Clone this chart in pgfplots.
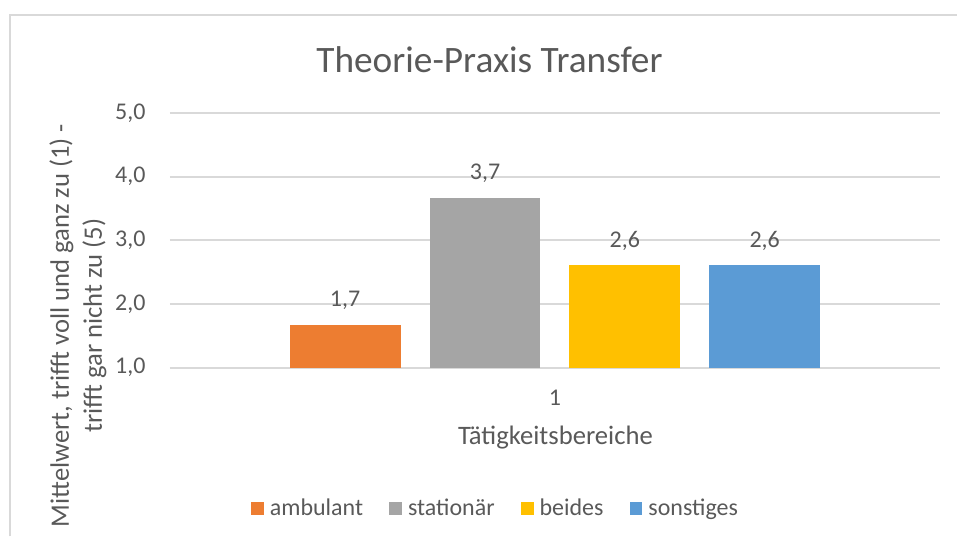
\documentclass[border=0pt]{standalone}
\usepackage{fontspec}
\setmainfont{Carlito}
\usepackage{pgfplots}
\pgfplotsset{compat=1.18}

\definecolor{amb}{HTML}{ED7D31}
\definecolor{sta}{HTML}{A5A5A5}
\definecolor{bei}{HTML}{FFC000}
\definecolor{son}{HTML}{5B9BD5}
\definecolor{txt}{HTML}{595959}
\definecolor{gridc}{HTML}{D9D9D9}

\begin{document}
\begin{tikzpicture}
\begin{axis}[
    at={(85pt,-184pt)}, anchor=south west,
    scale only axis,
    width=385.5pt, height=127.5pt,
    xmin=0.5, xmax=1.5,
    ymin=1, ymax=5,
    ybar=14.5pt, bar width=55.5pt,
    xtick={1}, ytick={1,2,3,4,5},
    ymajorgrids,
    grid style={draw=gridc, line width=1pt},
    axis line style={draw=none},
    major tick length=0pt,
    /pgf/number format/assume math mode=true,
    tick label style={font=\fontsize{12}{14}\selectfont, text=txt},
    yticklabel={\pgfmathprintnumber[fixed,fixed zerofill,precision=1,use comma,assume math mode=true]{\tick}},
    yticklabel style={anchor=east, inner sep=0pt, xshift=-12pt},
    xticklabel style={anchor=center, inner sep=0pt, yshift=-15pt},
    nodes near coords={\pgfmathprintnumber[fixed,fixed zerofill,precision=1,use comma,assume math mode=true]{\pgfplotspointmeta}},
    every node near coord/.append style={font=\fontsize{12}{14}\selectfont, text=txt, anchor=base, yshift=9pt, inner sep=0pt},
    legend columns=4,
    legend style={at={(0.4215,-0.553)}, anchor=center, draw=none, fill=none,
        font=\fontsize{12}{14}\selectfont, text=txt,
        nodes={inner xsep=0pt, inner ysep=1pt},
        /tikz/every odd column/.append style={column sep=3pt},
        /tikz/every even column/.append style={column sep=13pt}},
    legend image code/.code={\fill[#1] (0pt,-3.25pt) rectangle (6.5pt,3.25pt);},
]
\addplot[fill=amb, draw=none] coordinates {(1,1.67)};
\addplot[fill=sta, draw=none] coordinates {(1,3.67)};
\addplot[fill=bei, draw=none] coordinates {(1,2.61)};
\addplot[fill=son, draw=none] coordinates {(1,2.61)};
\legend{ambulant, stationär, beides, sonstiges}
\end{axis}

\begin{scope}[x=0.5pt, y=-0.5pt]
\path (0,0) rectangle (958,537);
\draw[gridc, line width=1pt] (10,537) -- (10,15) -- (958,15);
\node[font=\fontsize{18.67}{22}\selectfont, text=txt] at (490,60) {Theorie-Praxis Transfer};
\node[font=\fontsize{13.33}{16.5}\selectfont, text=txt] at (556,438) {Tätigkeitsbereiche};
\node[rotate=90, align=center, font=\fontsize{13.33}{16.5}\selectfont, text=txt] at (78,326)
    {Mittelwert, trifft voll und ganz zu (1) -\\trifft gar nicht zu (5)};
\end{scope}
\end{tikzpicture}
\end{document}
